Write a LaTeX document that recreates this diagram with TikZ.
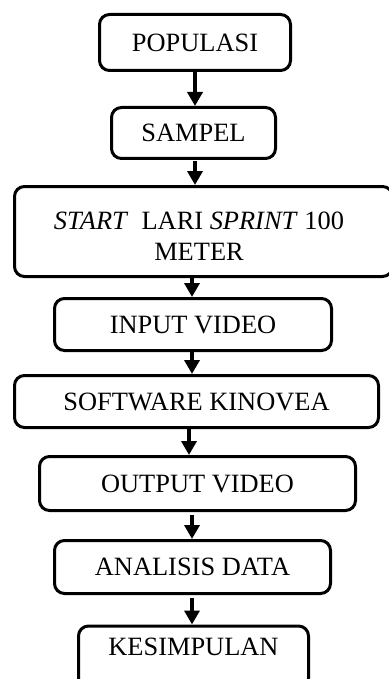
\documentclass[tikz,border=0pt]{standalone}
\usepackage{fontspec}
\setmainfont{Liberation Serif}
\usepackage{tikz}
\usetikzlibrary{arrows.meta, positioning}
\tikzset{>={Triangle[length=14pt,width=15pt]}}

\begin{document}
\begin{tikzpicture}[x=1pt, y=-1pt, line width=3pt,
    tahap/.style={draw, rounded corners=10pt, inner sep=0pt, align=center,
        font=\fontsize{26.4}{31}\selectfont},
    panah/.style={->, line width=3.5pt}]
    \useasboundingbox (0,0) rectangle (388,679);
    \coordinate	(poros)	at	(192,0);
    \node[tahap, minimum width=191, minimum height=56]	(populasi)	at	(195,42.5)	{POPULASI};
    \node[tahap, minimum width=164, minimum height=51]	(sampel)	at	(193.5,133)	{SAMPEL};
    \node[tahap, minimum width=378, minimum height=90]	(start)	at	(203.5,231.5)	{\rule{0pt}{26.5pt}\textit{START}~ LARI \textit{SPRINT} 100\rule{9pt}{0pt}\\METER\rule{9pt}{0pt}};
    \node[tahap, minimum width=277, minimum height=52]	(input)	at	(193,324.5)	{INPUT VIDEO};
    \node[tahap, minimum width=364, minimum height=52]	(software)	at	(196.5,401.5)	{SOFTWARE KINOVEA};
    \node[tahap, minimum width=316, minimum height=54]	(output)	at	(197.5,483.5)	{OUTPUT VIDEO};
    \node[tahap, minimum width=276, minimum height=53]	(analisis)	at	(192.5,567)	{ANALISIS DATA};
    \node[tahap, minimum width=230, minimum height=62]	(kesimpulan)	at	(193.5,657)	{KESIMPULAN\rule[-21pt]{0pt}{0pt}};

    \draw[panah] (populasi.south) -- (populasi.south |- sampel.north);
    \draw[panah, shorten <=1pt] (populasi.south |- sampel.south) -- (populasi.south |- start.north);

    \draw[panah] (start.south -| poros) -- (input.north -| poros);
    \draw[panah] (input.south -| poros) -- (software.north -| poros);
    \draw[panah] ([xshift=-3pt]software.south -| poros) -- ([xshift=-3pt]output.north -| poros);
    \draw[panah, shorten <=3pt] (output.south -| poros) -- (analisis.north -| poros);
    \draw[panah, shorten <=3pt] (analisis.south -| poros) -- (kesimpulan.north -| poros);
\end{tikzpicture}
\end{document}
